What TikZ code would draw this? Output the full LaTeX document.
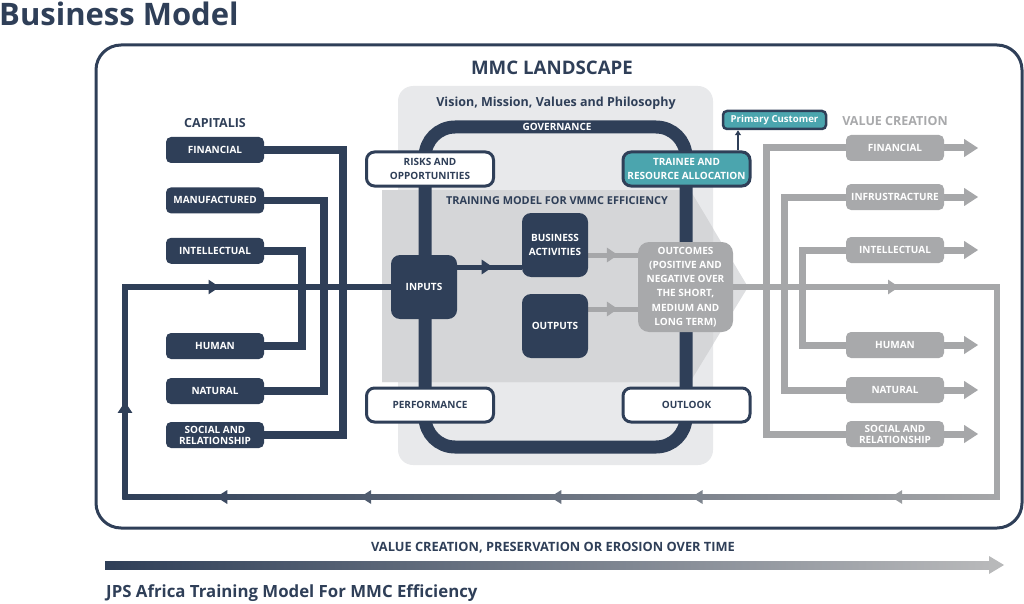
\documentclass[tikz,border=0pt]{standalone}
\usepackage{fontspec}
\setmainfont{Open Sans}
\usetikzlibrary{arrows.meta,decorations.markings,positioning,calc}
\definecolor{navy}{HTML}{2F3F58}
\definecolor{tealbox}{HTML}{4BA5AE}
\definecolor{boxgray}{HTML}{A8A9AB}
\definecolor{linegray}{HTML}{A6A7A9}
\definecolor{visiongray}{HTML}{E8E9EB}
\definecolor{traingray}{HTML}{D5D6D8}
\definecolor{chevrongray}{HTML}{DEDFE1}
\pgfdeclarelayer{bg}
\pgfdeclarelayer{lines}
\pgfsetlayers{bg,lines,main}
\begin{document}
\begin{tikzpicture}[x=1pt,y=-1pt,>=Triangle]
	\tikzset{
		lbl/.style={font=\bfseries\fontsize{10}{11}\selectfont},
		capbox/.style={lbl,fill=navy,text=white,rounded corners=5pt,minimum width=98pt,minimum height=26pt,inner sep=1pt,align=center},
		valbox/.style={capbox,fill=boxgray},
		ringbox/.style={lbl,font=\bfseries\fontsize{10}{14}\selectfont,draw=navy,line width=3pt,fill=white,text=navy,rounded corners=8pt,minimum width=127pt,minimum height=34pt,inner sep=1pt,align=center},
		corebox/.style={lbl,font=\bfseries\fontsize{10}{14.3}\selectfont,fill=navy,text=white,rounded corners=9pt,minimum width=66pt,minimum height=64pt,inner sep=1pt,align=center},
		capline/.style={navy,line width=7.5pt},
		valline/.style={linegray,line width=7pt},
		midarrow/.style={postaction={decorate,decoration={markings,mark=at position #1 with {\arrow{Triangle[width=14pt,length=11pt]}}}}},
		valarrow/.style={valline,-{Triangle[width=17pt,length=14pt]}}
	}
	\useasboundingbox (0,0) rectangle (1024,604);
	% headings
	\node[text=navy,font=\bfseries\fontsize{31}{34}\selectfont,anchor=base west,inner sep=0pt] (title) at (-1,26) {Business Model};
	\node[text=navy,font=\bfseries\fontsize{18.7}{21}\selectfont] (land) at (552,68) {MMC LANDSCAPE};
	\node[text=navy,font=\bfseries\fontsize{12.5}{14}\selectfont] (vision) at (556,103) {Vision, Mission, Values and Philosophy};
	\node[text=white,font=\bfseries\fontsize{10}{11}\selectfont] (gov) at (557,127) {GOVERNANCE};
	\node[text=navy,font=\bfseries\fontsize{10.9}{12}\selectfont] (tmod) at (557,201) {TRAINING MODEL FOR VMMC EFFICIENCY};
	% capitals
	\node[text=navy,font=\bfseries\fontsize{12.5}{14}\selectfont] (ctitle) at (215,123) {CAPITALIS};
	\node[capbox] (cfin) at (215,150) {FINANCIAL};
	\node[capbox,below=24pt of cfin] (cman) {MANUFACTURED};
	\node[capbox,below=24pt of cman] (cint) {INTELLECTUAL};
	\node[capbox] (chum) at (215,346) {HUMAN};
	\node[capbox] (cnat) at (215,391) {NATURAL};
	\node[capbox] (csoc) at (215,435) {SOCIAL AND\\RELATIONSHIP};
	% value creation
	\node[text=boxgray,font=\bfseries\fontsize{12.5}{14}\selectfont] (vtitle) at (895,121) {VALUE CREATION};
	\node[valbox] (vfin) at (895,148) {FINANCIAL};
	\node[valbox] (vinf) at (895,197) {INFRUSTRACTURE};
	\node[valbox] (vint) at (895,250) {INTELLECTUAL};
	\node[valbox] (vhum) at (895,345) {HUMAN};
	\node[valbox] (vnat) at (895,390) {NATURAL};
	\node[valbox] (vsoc) at (895,434) {SOCIAL AND\\RELATIONSHIP};
	% training model
	\node[ringbox] (risk) at (430,169) {RISKS AND\\OPPORTUNITIES};
	\node[ringbox,fill=tealbox,text=white] (trainee) at (686.5,169) {TRAINEE AND\\RESOURCE ALLOCATION};
	\node[ringbox] (perf) at (430,405) {PERFORMANCE};
	\node[ringbox] (outl) at (686.5,405) {OUTLOOK};
	\node[draw=navy,line width=2.5pt,fill=tealbox,text=white,rounded corners=4pt,minimum width=103pt,minimum height=18pt,inner sep=1pt,font=\bfseries\fontsize{9.6}{10}\selectfont] (prim) at (774.5,120) {Primary Customer};
	\node[corebox] (inp) at (424,287) {INPUTS};
	\node[corebox] (bact) at (555,245) {BUSINESS\\ACTIVITIES};
	\node[corebox] (outp) at (555,326) {OUTPUTS};
	\node[corebox,fill=boxgray,rounded corners=11pt,minimum width=95pt,minimum height=90pt] (outc) at (685.5,287) {OUTCOMES\\(POSITIVE AND\\NEGATIVE OVER\\THE SHORT,\\MEDIUM AND\\LONG TERM)};
	% time axis
	\node[text=navy,font=\bfseries\fontsize{12.8}{14}\selectfont] (vcap) at (553,548) {VALUE CREATION, PRESERVATION OR EROSION OVER TIME};
	\node[text=navy,font=\bfseries\fontsize{16.8}{19}\selectfont,anchor=west,inner sep=0pt] (jps) at (106,593) {JPS Africa Training Model For MMC Efficiency};
	\coordinate (ts) at (105,565);
	\coordinate (te) at (1004,565);
	\shade[left color=navy,right color=linegray!80] ($(ts)+(0,-4)$) rectangle ($(te)+(-14,4)$);
	\fill[linegray!80] ($(te)+(-15,-9)$) -- (te) -- ($(te)+(-15,9)$) -- cycle;
	\begin{pgfonlayer}{bg}
		\draw[navy,line width=3pt,rounded corners=25pt] (96,45) rectangle (1022,528);
		\fill[visiongray,rounded corners=15pt] (398,86) rectangle (713,465);
		\fill[chevrongray] (382,190) -- (690,190) -- (748,287) -- (690,382) -- (382,382) -- cycle;
		\begin{scope}
			\clip (382,180) rectangle (713,390);
			\fill[traingray] (382,190) -- (690,190) -- (748,287) -- (690,382) -- (382,382) -- cycle;
		\end{scope}
		\draw[navy,line width=13pt,rounded corners=30pt] (425,127) rectangle (686,447);
	\end{pgfonlayer}
	\begin{pgfonlayer}{lines}
		% capital links
		\draw[capline] (cfin.east) -| ([xshift=79pt]csoc.east) -- (csoc.east);
		\draw[capline] (cman.east) -| ([xshift=60pt]cnat.east) -- (cnat.east);
		\draw[capline] (cint.east) -| ([xshift=38pt]chum.east) -- (chum.east);
		% value links
		\draw[valline] (vfin.west) -| ([xshift=-79pt]vsoc.west) -- (vsoc.west);
		\draw[valline] (vinf.west) -| ([xshift=-61pt]vnat.west) -- (vnat.west);
		\draw[valline] (vint.west) -| ([xshift=-43pt]vhum.west) -- (vhum.west);
		\foreach \n in {vfin,vinf,vint,vhum,vnat,vsoc}
			\draw[valarrow] (\n.east) -- ++(34,0);
		% main loop
		\coordinate (lb) at (125,497);
		\coordinate (rb) at (997,497);
		\draw[navy,line width=5.5pt,midarrow=0.2,midarrow=0.64] (lb) -- (lb |- inp.west) -- (inp.west);
		\draw[linegray,line width=5.5pt,midarrow=0.35] (outc.east) -- (outc.east -| rb) -- (rb);
		\shade[left color=navy,right color=linegray] ($(lb)+(-2.75,-2.75)$) rectangle ($(rb)+(2.75,2.75)$);
		\foreach \p/\c in {0.111/11,0.276/28,0.494/49,0.656/66,0.885/89}
			\fill[linegray!\c!navy] ($(lb)!\p!(rb)$) ++(-5.5,0) -- ++(11,-7) -- ++(0,14) -- cycle;
		% inner flows
		\coordinate (ia) at ([yshift=20pt]inp.east);
		\draw[navy,line width=5pt,midarrow=0.55] (ia) -- (ia -| bact.west);
		\coordinate (ba) at ([yshift=-10pt]bact.east);
		\draw[linegray,line width=5pt,midarrow=0.6] (ba) -- (ba -| outc.west);
		\coordinate (oa) at ([yshift=17pt]outp.east);
		\draw[linegray,line width=5pt,midarrow=0.6] (oa) -- (oa -| outc.west);
		% primary customer link
		\coordinate (pl) at (738,0);
		\draw[navy,line width=1.5pt,-{Triangle[width=6pt,length=5pt]}] (pl |- trainee.north) -- (pl |- prim.south);
	\end{pgfonlayer}
\end{tikzpicture}
\end{document}
